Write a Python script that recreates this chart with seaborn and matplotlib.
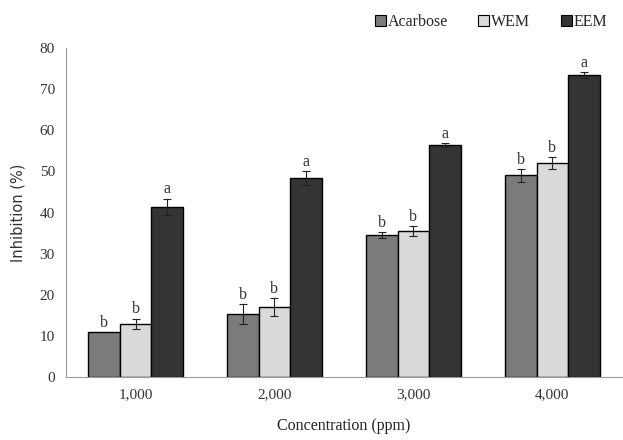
import matplotlib
matplotlib.use("Agg")
import matplotlib.pyplot as plt
import seaborn as sns
import pandas as pd
import numpy as np
from matplotlib.patches import Patch

concentrations = ["1,000", "2,000", "3,000", "4,000"]
series = ["Acarbose", "WEM", "EEM"]
acarbose = [10.9, 15.3, 34.5, 49.0]
wem = [12.9, 17.0, 35.5, 52.0]
eem = [41.4, 48.4, 56.4, 73.4]
acarbose_err = [0.0, 2.5, 0.8, 1.5]
wem_err = [1.3, 2.2, 1.2, 1.5]
eem_err = [2.0, 1.6, 0.5, 0.8]
acarbose_lbl = ["b", "b", "b", "b"]
wem_lbl = ["b", "b", "b", "b"]
eem_lbl = ["a", "a", "a", "a"]
colors = ["#7b7b7b", "#dadada", "#343434"]

rows = []
for s, vals, errs, lbls in zip(series, [acarbose, wem, eem],
                               [acarbose_err, wem_err, eem_err],
                               [acarbose_lbl, wem_lbl, eem_lbl]):
    for c, v, e, l in zip(concentrations, vals, errs, lbls):
        rows.append({"Concentration": c, "Series": s, "Value": v, "Err": e, "Lbl": l})
df = pd.DataFrame(rows)

sns.set_style("white")
plt.rcParams["font.family"] = ["Liberation Serif", "DejaVu Serif"]

fig = plt.figure(figsize=(6.23, 4.4), dpi=100)
ax = fig.add_axes([0.106, 0.143, 0.892, 0.748])

sns.barplot(data=df, x="Concentration", y="Value", hue="Series",
            hue_order=series, order=concentrations, palette=colors,
            width=0.68, gap=0, errorbar=None, edgecolor="black",
            linewidth=1.0, ax=ax, legend=False)

for i, s in enumerate(series):
    cont = ax.containers[i]
    sub = df[df["Series"] == s].set_index("Concentration").loc[concentrations]
    for bar, (_, r) in zip(cont, sub.iterrows()):
        xc = bar.get_x() + bar.get_width() / 2
        h = bar.get_height()
        if r["Err"] > 0:
            ax.errorbar(xc, h, yerr=r["Err"], fmt="none", ecolor="#222222",
                        elinewidth=0.8, capsize=3, capthick=0.8)
        ax.text(xc, h + r["Err"] + 0.3, r["Lbl"], ha="center", va="bottom",
                fontsize=11.5, color="#333333")

ax.set_xlim(-0.5, 3.5)
ax.set_ylim(0, 80)
ax.set_yticks(np.arange(0, 81, 10))
ax.tick_params(axis="both", labelsize=11, colors="#333333", length=0, pad=8)
ax.set_xticks(range(4))
ax.set_xticklabels(concentrations)
ax.set_xticks([0.5, 1.5, 2.5], minor=True)
ax.tick_params(axis="x", which="minor", length=3, color="#999999", direction="out")

for sp in ["top", "right"]:
    ax.spines[sp].set_visible(False)
for sp in ["left", "bottom"]:
    ax.spines[sp].set_color("#999999")
    ax.spines[sp].set_linewidth(0.8)

ax.set_xlabel("Concentration (ppm)", fontsize=11.5, color="#222222", labelpad=12)
ax.set_ylabel("Inhibition (%)", fontsize=10.5, color="#333333", labelpad=10,
              family=["DejaVu Sans"])

handles = [Patch(facecolor=c, edgecolor="black", linewidth=0.8) for c in colors]
ax.legend(handles, series, loc="lower right", bbox_to_anchor=(0.985, 1.035),
          ncol=3, frameon=False, fontsize=11.5, handlelength=0.7,
          handleheight=0.7, handletextpad=0.1, columnspacing=1.9,
          borderaxespad=0)

fig.savefig("out.png", dpi=100, facecolor="white")
